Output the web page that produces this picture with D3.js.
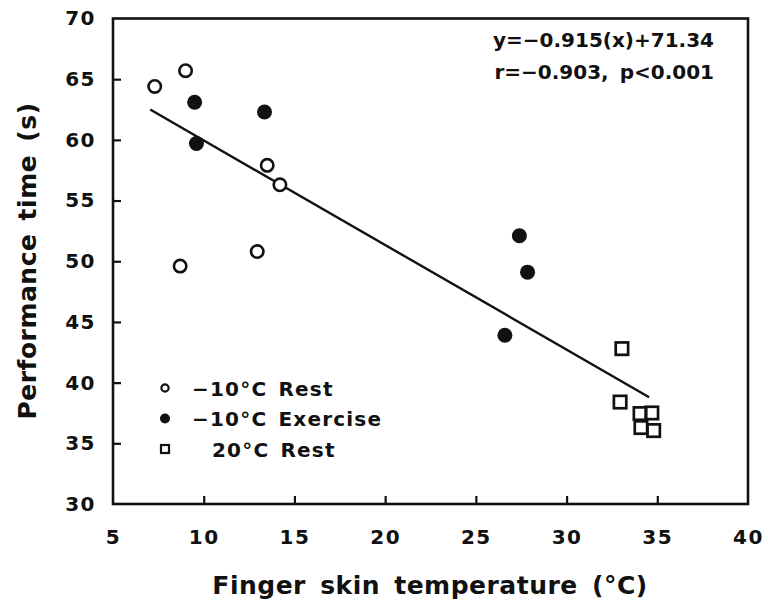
<!DOCTYPE html>
<html>
<head>
<meta charset="utf-8">
<script src="https://cdn.jsdelivr.net/npm/d3@7"></script>
<style>
  body { margin: 0; background: #fff; }
  text { font-family: "DejaVu Sans", sans-serif; font-weight: bold; fill: #111; }
</style>
</head>
<body>
<div id="chart"></div>
<script>
// data
var restX = [7.3, 9.0, 13.5, 14.2, 12.95, 8.7];
var restY = [64.4, 65.7, 57.9, 56.3, 50.8, 49.6];

var exerX = [9.5, 9.6, 13.35, 27.4, 27.85, 26.6];
var exerY = [63.1, 59.7, 62.3, 52.1, 49.1, 43.9];

var warmX = [33.05, 32.95, 34.05, 34.7, 34.1, 34.8];
var warmY = [42.8, 38.4, 37.45, 37.5, 36.3, 36.05];

// regression line as drawn
var fitX = [7.05, 34.55];
var fitY = [62.5, 38.8];

var xTicks = [5, 10, 15, 20, 25, 30, 35, 40];
var yTicks = [30, 35, 40, 45, 50, 55, 60, 65, 70];

var legendLabels = ["\u221210\u00B0C Rest", "\u221210\u00B0C Exercise", "20\u00B0C Rest"];

var svgWidth = 768;
var svgHeight = 606;

var margin = { top: 18.5, right: 20, bottom: 102, left: 113 };
var width = 748 - margin.left;
var height = 504 - margin.top;

var svg = d3.select("#chart").append("svg")
  .attr("width", svgWidth)
  .attr("height", svgHeight);

var chartGroup = svg.append("g")
  .attr("transform", `translate(${margin.left}, ${margin.top})`);

var xScale = d3.scaleLinear().domain([5, 40]).range([0, width]);
var yScale = d3.scaleLinear().domain([30, 70]).range([height, 0]);

// frame
chartGroup.append("rect")
  .attr("x", 0).attr("y", 0)
  .attr("width", width).attr("height", height)
  .attr("fill", "none")
  .attr("stroke", "#111")
  .attr("stroke-width", 2.6);

// axes, ticks pointing inward
var bottomAxis = d3.axisBottom(xScale).tickValues(xTicks).tickSizeInner(-8).tickSizeOuter(0).tickPadding(26);
var leftAxis = d3.axisLeft(yScale).tickValues(yTicks).tickSizeInner(-8).tickSizeOuter(0).tickPadding(17);

var xAxis = chartGroup.append("g")
  .attr("transform", `translate(0, ${height})`)
  .call(bottomAxis);

var yAxis = chartGroup.append("g")
  .call(leftAxis);

[xAxis, yAxis].forEach(function(ax) {
  ax.select(".domain").remove();
  ax.selectAll("line").attr("stroke", "#111").attr("stroke-width", 2.2);
  ax.selectAll("text")
    .attr("font-size", 20)
    .attr("font-family", "DejaVu Sans, sans-serif")
    .attr("font-weight", "bold")
    .attr("letter-spacing", "1.5px")
    .attr("fill", "#111");
});
xAxis.selectAll(".tick line").filter(d => d === 5 || d === 40).remove();
yAxis.selectAll(".tick line").filter(d => d === 30 || d === 70).remove();

// regression line
chartGroup.append("line")
  .attr("x1", xScale(fitX[0])).attr("y1", yScale(fitY[0]))
  .attr("x2", xScale(fitX[1])).attr("y2", yScale(fitY[1]))
  .attr("stroke", "#111")
  .attr("stroke-width", 2.4);

// -10C rest: open circles
chartGroup.selectAll(".rest")
  .data(d3.zip(restX, restY))
  .enter()
  .append("circle")
  .attr("class", "rest")
  .attr("cx", d => xScale(d[0]))
  .attr("cy", d => yScale(d[1]))
  .attr("r", 6.2)
  .attr("fill", "#fff")
  .attr("stroke", "#111")
  .attr("stroke-width", 2.6);

// -10C exercise: filled circles
chartGroup.selectAll(".exer")
  .data(d3.zip(exerX, exerY))
  .enter()
  .append("circle")
  .attr("class", "exer")
  .attr("cx", d => xScale(d[0]))
  .attr("cy", d => yScale(d[1]))
  .attr("r", 7.5)
  .attr("fill", "#111");

// 20C rest: open squares
chartGroup.selectAll(".warm")
  .data(d3.zip(warmX, warmY))
  .enter()
  .append("rect")
  .attr("class", "warm")
  .attr("x", d => xScale(d[0]) - 6.2)
  .attr("y", d => yScale(d[1]) - 6.2)
  .attr("width", 12.4)
  .attr("height", 12.4)
  .attr("fill", "none")
  .attr("stroke", "#111")
  .attr("stroke-width", 2.7);

// equation
var eq = chartGroup.append("g")
  .attr("transform", `translate(${width - 34}, 0)`);
eq.append("text").attr("y", 28.5).attr("text-anchor", "end").attr("font-size", 20)
  .text("y=\u22120.915(x)+71.34");
eq.append("text").attr("y", 60.5).attr("text-anchor", "end").attr("font-size", 20)
  .attr("word-spacing", "4px")
  .text("r=\u22120.903, p<0.001");

// legend
var legend = chartGroup.append("g")
  .attr("transform", "translate(52, 369.5)");

legendLabels.forEach(function(label, i) {
  var row = legend.append("g").attr("transform", `translate(0, ${i * 30.5})`);
  if (i === 0) {
    row.append("circle").attr("r", 3.6).attr("fill", "#fff").attr("stroke", "#111").attr("stroke-width", 2.2);
  } else if (i === 1) {
    row.append("circle").attr("r", 5).attr("fill", "#111");
  } else {
    row.append("rect").attr("x", -4).attr("y", -4).attr("width", 8).attr("height", 8)
      .attr("fill", "none").attr("stroke", "#111").attr("stroke-width", 2.2);
  }
  row.append("text")
    .attr("x", i === 2 ? 47 : 27)
    .attr("y", 7.5)
    .attr("font-size", 20)
    .attr("letter-spacing", "1.2px")
    .attr("word-spacing", "3px")
    .text(label);
});

// axis titles
svg.append("text")
  .attr("x", 430)
  .attr("y", 594)
  .attr("text-anchor", "middle")
  .attr("font-size", 25)
  .attr("letter-spacing", "0.5px")
  .attr("word-spacing", "5px")
  .text("Finger skin temperature (\u00B0C)");

svg.append("text")
  .attr("transform", "translate(36, 261) rotate(-90)")
  .attr("text-anchor", "middle")
  .attr("font-size", 25)
  .attr("letter-spacing", "0.5px")
  .attr("word-spacing", "4px")
  .text("Performance time (s)");
</script>
</body>
</html>
